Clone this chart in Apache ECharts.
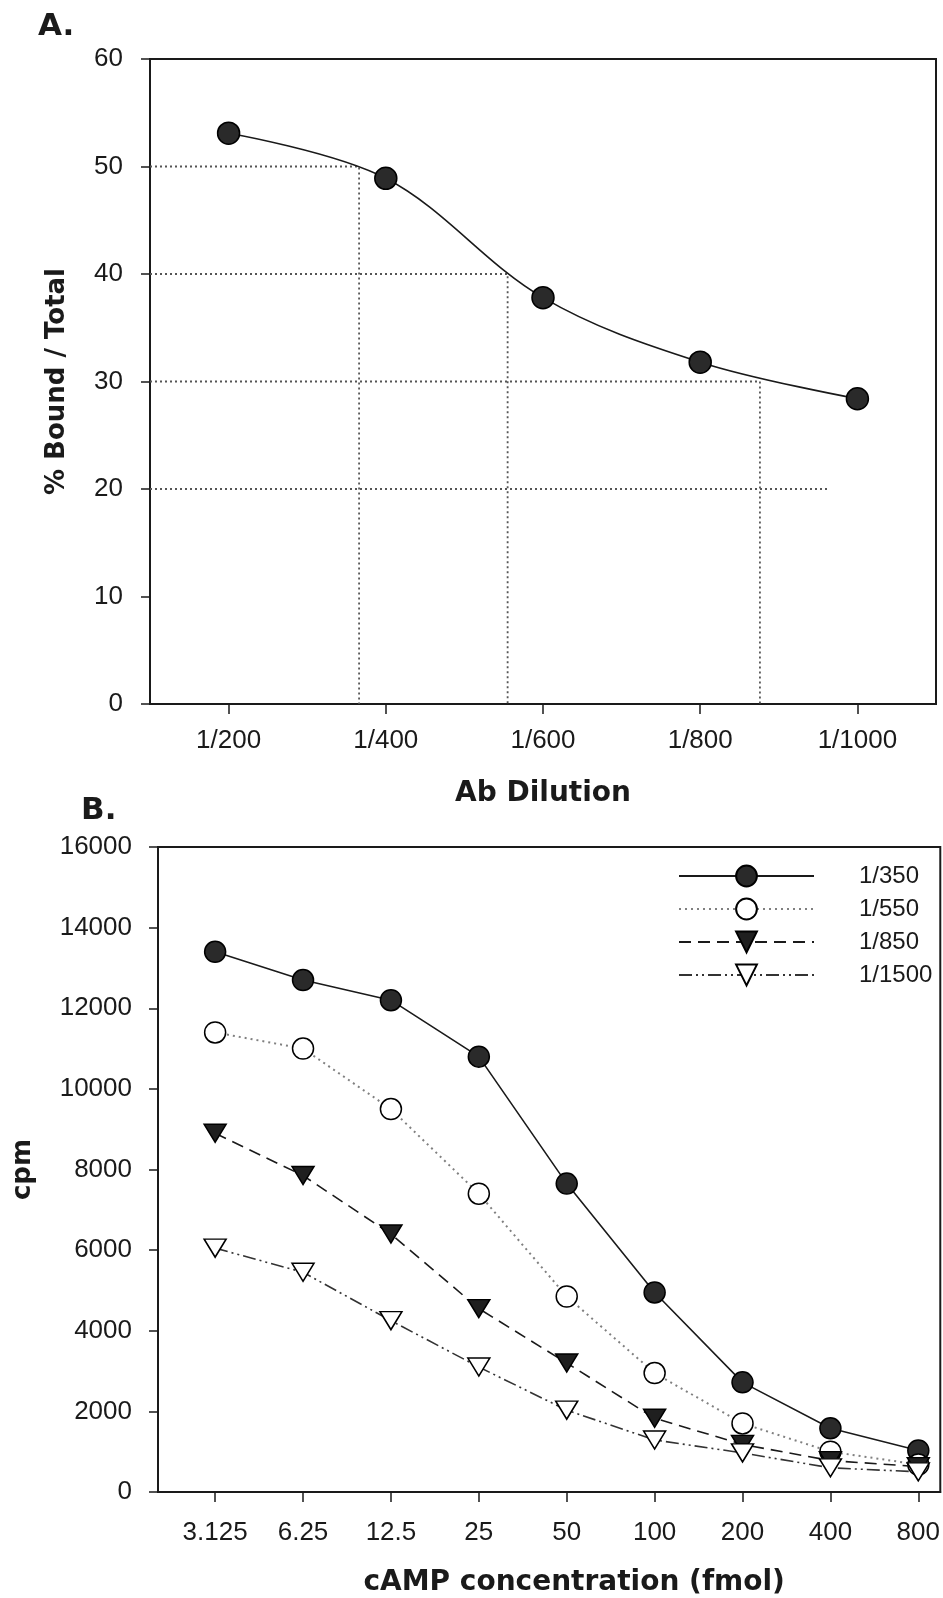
<!DOCTYPE html>
<html>
<head>
<meta charset="utf-8">
<script src="https://cdn.jsdelivr.net/npm/echarts@6/dist/echarts.min.js"></script>
<style>
  html, body { margin: 0; padding: 0; background: #ffffff; }
  #chart { width: 943px; height: 1598px; }
</style>
</head>
<body>
<div id="chart"></div>
<script>
// Panel A: antibody dilution curve
const dilutions = [200, 400, 600, 800, 1000];
const dilutionLabels = ['1/200', '1/400', '1/600', '1/800', '1/1000'];
const boundPct = [53.1, 48.9, 37.8, 31.8, 28.4];

// Read-out guides: % bound level and the dilution where the curve reaches it
const readoutLevels = [50, 40, 30, 20];
const readoutDilutions = [366, 555, 876, 962];
const readoutDrop = [true, true, true, false];

// Panel B: cAMP standard curves at four antibody dilutions
const concLabels = ['3.125', '6.25', '12.5', '25', '50', '100', '200', '400', '800'];
const seriesNames = ['1/350', '1/550', '1/850', '1/1500'];
const cpm350  = [13400, 12700, 12200, 10800, 7650, 4950, 2720, 1580, 1030];
const cpm550  = [11400, 11000, 9500, 7400, 4850, 2950, 1700, 1000, 680];
const cpm850  = [8900, 7850, 6400, 4550, 3200, 1830, 1180, 780, 630];
const cpm1500 = [6050, 5450, 4250, 3100, 2030, 1290, 970, 600, 500];

const INK = '#1a1a1a';
const SANS = '"Liberation Sans", Arial, Helvetica, sans-serif';
const TITLE_FONT = '"DejaVu Sans", "Liberation Sans", Arial, sans-serif';

const concIdx = concLabels.map((_, i) => i);
const toPairs = vals => vals.map((v, i) => [concIdx[i], v]);

const axisLineStyle = { show: true, onZero: false, lineStyle: { color: INK, width: 2 } };
const tickLabel = { fontSize: 26, color: INK, fontFamily: SANS };
const axisTitle = { fontSize: 28, fontWeight: 'bold', color: INK, fontFamily: TITLE_FONT };

const A_MIN = 100, A_MAX = 1100;

// dotted read-out lines for panel A
const readoutSeries = readoutLevels.map((lvl, i) => {
  const pts = [[A_MIN, lvl], [readoutDilutions[i], lvl]];
  if (readoutDrop[i]) pts.push([readoutDilutions[i], 0]);
  return {
    type: 'line', xAxisIndex: 0, yAxisIndex: 0, data: pts,
    symbol: 'none', silent: true, z: 1,
    lineStyle: { color: '#555555', width: 1.8, type: [2, 3] }
  };
});

const bStyles = [
  { data: cpm350, symbol: 'circle', size: 21, fill: '#2a2a2a', line: { color: INK, width: 1.6, type: 'solid' } },
  { data: cpm550, symbol: 'circle', size: 21, fill: '#ffffff', line: { color: '#808080', width: 2, type: [2, 4] } },
  { data: cpm850, symbol: 'triangle', size: [22, 18], fill: '#1f1f1f', rotate: 180, line: { color: INK, width: 1.6, type: [12, 7] } },
  { data: cpm1500, symbol: 'triangle', size: [22, 18], fill: '#ffffff', rotate: 180, line: { color: '#333333', width: 1.6, type: [13, 4, 2, 4, 2, 4] } }
];

const panelBSeries = bStyles.map((s, i) => ({
  name: seriesNames[i],
  type: 'line', xAxisIndex: 1, yAxisIndex: 1,
  data: toPairs(s.data),
  symbol: s.symbol, symbolSize: s.size, symbolRotate: s.rotate || 0,
  showSymbol: true, z: 3 + i,
  itemStyle: { color: s.fill, borderColor: '#000000', borderWidth: 1.5 },
  lineStyle: s.line
}));

const option = {
  animation: false,
  backgroundColor: '#ffffff',
  title: [
    { text: 'A.', left: 33, top: 6, textStyle: { fontSize: 31, fontWeight: 'bold', color: INK, fontFamily: TITLE_FONT } },
    { text: 'B.', left: 76, top: 790, textStyle: { fontSize: 31, fontWeight: 'bold', color: INK, fontFamily: TITLE_FONT } }
  ],
  grid: [
    { left: 150, right: 7, top: 59, height: 645, show: true, borderColor: INK, borderWidth: 2, backgroundColor: 'transparent' },
    { left: 158, right: 2, top: 847, height: 645, show: true, borderColor: INK, borderWidth: 2, backgroundColor: 'transparent' }
  ],
  legend: {
    data: seriesNames,
    orient: 'vertical',
    left: 673, top: 857,
    itemWidth: 135, itemHeight: 26, itemGap: 5,
    textStyle: { fontSize: 24, color: INK, fontFamily: SANS, lineHeight: 28, padding: [0, 0, 0, 40] },
    selectedMode: false
  },
  xAxis: [
    {
      gridIndex: 0, type: 'value', min: A_MIN, max: A_MAX,
      axisLine: axisLineStyle,
      axisTick: { show: true, customValues: dilutions, length: 10, inside: false, lineStyle: { color: INK, width: 1.5 } },
      axisLabel: { customValues: dilutions, formatter: v => dilutionLabels[dilutions.indexOf(v)], margin: 24, ...tickLabel },
      splitLine: { show: false },
      name: 'Ab Dilution', nameLocation: 'middle', nameGap: 76, nameTextStyle: axisTitle
    },
    {
      gridIndex: 1, type: 'value', min: -0.65, max: 8.25,
      axisLine: axisLineStyle,
      axisTick: { show: true, customValues: concIdx, length: 10, inside: false, lineStyle: { color: INK, width: 1.5 } },
      axisLabel: { customValues: concIdx, formatter: v => concLabels[v], margin: 28, ...tickLabel },
      splitLine: { show: false },
      name: 'cAMP concentration (fmol)', nameLocation: 'middle', nameGap: 77,
      nameTextStyle: { ...axisTitle, padding: [0, 0, 0, 50] }
    }
  ],
  yAxis: [
    {
      gridIndex: 0, type: 'value', min: 0, max: 60, interval: 10,
      axisLine: axisLineStyle,
      axisTick: { show: true, length: 9, inside: false, lineStyle: { color: INK, width: 1.5 } },
      axisLabel: { margin: 27, formatter: v => String(v), ...tickLabel },
      splitLine: { show: false },
      name: '% Bound / Total', nameLocation: 'middle', nameGap: 80, nameRotate: 90,
      nameTextStyle: { ...axisTitle, fontSize: 26 }
    },
    {
      gridIndex: 1, type: 'value', min: 0, max: 16000, interval: 2000,
      axisLine: axisLineStyle,
      axisTick: { show: true, length: 9, inside: false, lineStyle: { color: INK, width: 1.5 } },
      axisLabel: { margin: 26, formatter: v => String(v), ...tickLabel },
      splitLine: { show: false },
      name: 'cpm', nameLocation: 'middle', nameGap: 122, nameRotate: 90,
      nameTextStyle: { ...axisTitle, fontSize: 26 }
    }
  ],
  series: [
    ...readoutSeries,
    {
      type: 'line', xAxisIndex: 0, yAxisIndex: 0,
      data: dilutions.map((d, i) => [d, boundPct[i]]),
      smooth: 0.35,
      symbol: 'circle', symbolSize: 22, z: 5,
      itemStyle: { color: '#2a2a2a', borderColor: '#000000', borderWidth: 1.5 },
      lineStyle: { color: INK, width: 1.6 }
    },
    ...panelBSeries
  ]
};

const chart = echarts.init(document.getElementById('chart'), null, { renderer: 'canvas' });
chart.setOption(option);
</script>
</body>
</html>
